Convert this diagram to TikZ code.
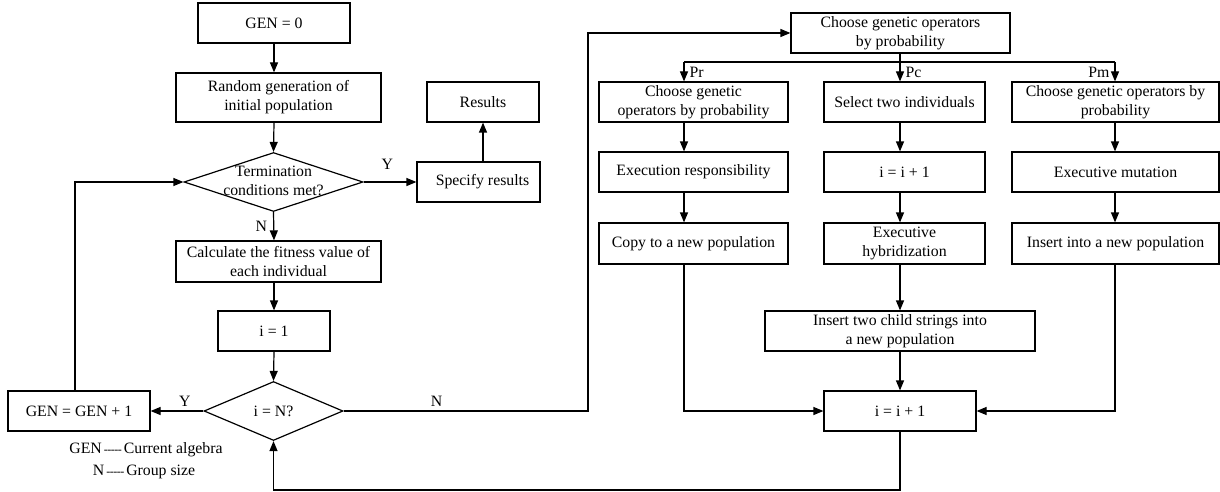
\documentclass[tikz,border=0pt]{standalone}
\usepackage{fontspec}
\setmainfont{Liberation Serif}
\usetikzlibrary{arrows.meta,shapes.geometric}
\tikzset{
  box/.style={draw, line width=1.2pt, rectangle, inner sep=0pt, align=center, font=\fontsize{15.8}{19}\selectfont},
  dia/.style={draw, line width=1.2pt, diamond, inner sep=0pt},
  txt/.style={inner sep=0pt, align=center, font=\fontsize{15.8}{19}\selectfont},
  lbl/.style={inner sep=0pt, font=\fontsize{15.8}{19}\selectfont},
  arr/.style={line width=1.2pt, -{Triangle[length=10pt,width=8pt]}},
  ln/.style={line width=1.2pt}
}
\newcommand{\legdash}{{\fontsize{12}{12}\selectfont\,{-}\kern-0.5pt{-}\kern-0.5pt{-}\kern-0.5pt{-}\kern-0.5pt{-}\,}}
\begin{document}
\begin{tikzpicture}[x=1pt,y=-1pt]
\useasboundingbox (0,0) rectangle (1220,492);
% left column
\node[box, minimum width=152pt, minimum height=40pt] (gen0) at (274,23) {GEN = 0};
\node[box, minimum width=205pt, minimum height=49pt] (rand) at (278.5,97.5) {Random generation of\\initial population};
\node[dia, minimum width=179pt, minimum height=59pt] (term) at (273.5,182) {};
\node[txt] (termtxt) at (273.5,181) {Termination\\conditions met?};
\node[box, minimum width=205pt, minimum height=41pt] (calc) at (278.5,261.5) {Calculate the fitness value of\\each individual};
\node[box, minimum width=112pt, minimum height=40pt] (i1) at (274,331) {i = 1};
\node[dia, minimum width=139pt, minimum height=59pt] (ineq) at (273.5,411) {};
\node[txt] (ineqtxt) at (273.5,411) {i = N?};
\node[box, minimum width=142pt, minimum height=40pt] (gen1) at (79,411) {GEN = GEN + 1};
\node[box, minimum width=123pt, minimum height=40pt] (spec) at (478.5,182) {\hspace*{8pt}Specify results};
\node[box, minimum width=112pt, minimum height=40pt] (res) at (483,102) {Results};
\node[lbl] (leg1) at (146,450) {GEN\legdash Current algebra};
\node[lbl] (leg2) at (144,472) {N\legdash Group size};
% right part
\node[box, minimum width=219pt, minimum height=40pt] (choose) at (900.5,33) {Choose genetic operators\\by probability};
\node[box, minimum width=189pt, minimum height=40pt] (c1a) at (693.5,102) {Choose genetic\\operators by probability};
\node[box, minimum width=189pt, minimum height=40pt] (c1b) at (693.5,172) {Execution responsibility};
\node[box, minimum width=189pt, minimum height=41pt] (c1c) at (693.5,243.5) {Copy to a new population};
\node[box, minimum width=161pt, minimum height=40pt] (c2a) at (904.5,102) {Select two individuals};
\node[box, minimum width=161pt, minimum height=40pt] (c2b) at (904.5,172) {i = i + 1};
\node[box, minimum width=161pt, minimum height=41pt] (c2c) at (904.5,243.5) {Executive\\hybridization};
\node[box, minimum width=270pt, minimum height=40pt] (ins2) at (900,331) {Insert two child strings into\\a new population};
\node[box, minimum width=152pt, minimum height=40pt] (ii2) at (900,411) {i = i + 1};
\node[box, minimum width=207pt, minimum height=40pt] (c3a) at (1115.5,102) {Choose genetic operators by\\probability};
\node[box, minimum width=207pt, minimum height=40pt] (c3b) at (1115.5,172) {Executive mutation};
\node[box, minimum width=207pt, minimum height=41pt] (c3c) at (1115.5,243.5) {Insert into a new population};
% coordinates
\coordinate (xl) at (274,0);
\coordinate (x1) at (684,0);
\coordinate (x2) at (900,0);
\coordinate (x3) at (1115,0);
\coordinate (bra) at (0,62);
\coordinate (topN) at (588,33);
\coordinate (bot) at (0,490);
\coordinate (loopx) at (75,0);
% left connectors
\draw[arr] (gen0.south) -- (gen0.south |- rand.north);
\draw[arr] (xl |- rand.south) -- (term.north);
\draw[arr] (term.east) -- (spec.west) node[lbl, pos=0.45, above=12pt] (ylab) {Y};
\draw[arr] (res.south |- spec.north) -- (res.south);
\draw[arr] (term.south) -- (xl |- calc.north) node[lbl, pos=0.5, left=6pt] (nlab) {N};
\draw[arr] (xl |- calc.south) -- (i1.north);
\draw[arr] (i1.south) -- (ineq.north);
\draw[arr] (ineq.west) -- (gen1.east) node[lbl, pos=0.35, above=4pt] (ylab2) {Y};
\draw[arr] (loopx |- gen1.north) -- (loopx |- term.west) -- (term.west);
\draw[arr] (ineq.east) -- (topN |- ineq.east) node[lbl, pos=0.38, above=4pt] (nlab2) {N} -- (topN) -- (choose.west);
% branches
\draw[ln] (x1 |- bra) -- (x3 |- bra);
\draw[arr] (x2 |- choose.south) -- (x2 |- c2a.north) node[lbl, pos=0.66, right=5pt] (pc) {Pc};
\draw[arr] (x1 |- bra) -- (x1 |- c1a.north) node[lbl, pos=0.55, right=5pt] (pr) {Pr};
\draw[arr] (x3 |- bra) -- (x3 |- c3a.north) node[lbl, pos=0.55, left=5pt] (pm) {Pm};
% columns
\draw[arr] (x1 |- c1a.south) -- (x1 |- c1b.north);
\draw[arr] (x1 |- c1b.south) -- (x1 |- c1c.north);
\draw[arr] (x1 |- c1c.south) -- (x1 |- ii2.west) -- (ii2.west);
\draw[arr] (x2 |- c2a.south) -- (x2 |- c2b.north);
\draw[arr] (x2 |- c2b.south) -- (x2 |- c2c.north);
\draw[arr] (x2 |- c2c.south) -- (ins2.north);
\draw[arr] (ins2.south) -- (ii2.north);
\draw[arr] (x3 |- c3a.south) -- (x3 |- c3b.north);
\draw[arr] (x3 |- c3b.south) -- (x3 |- c3c.north);
\draw[arr] (x3 |- c3c.south) -- (x3 |- ii2.east) -- (ii2.east);
\draw[arr] (ii2.south) -- (ii2.south |- bot) -- (ineq.south |- bot) -- (ineq.south);
\end{tikzpicture}
\end{document}
